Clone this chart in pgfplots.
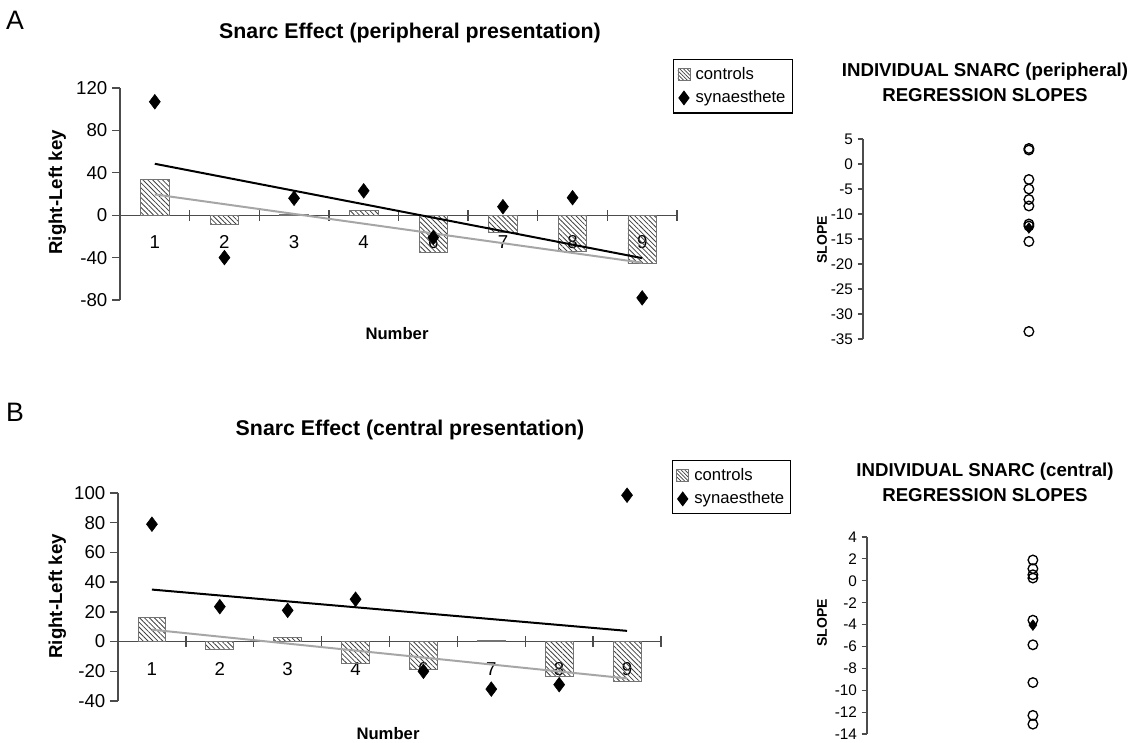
\documentclass[border=0pt]{standalone}
\usepackage{fontspec}
\setmainfont{Liberation Sans}
\usepackage{pgfplots}
\pgfplotsset{compat=1.18}
\usetikzlibrary{patterns.meta}
\newcommand\fs[1]{\fontsize{#1}{#1}\selectfont}
\pgfplotsset{
  snarc/.style={
    scale only axis,
    axis y line=left, axis x line=middle,
    x axis line style={-, draw=black!70, line width=1pt},
    y axis line style={-, draw=black!70, line width=1pt},
    hide obscured x ticks=false, hide obscured y ticks=false,
    xmin=0.5, xmax=8.5,
    xtick={1,...,8}, xticklabels={1,2,3,4,6,7,8,9},
    major x tick style={draw=none},
    minor xtick={1.5,2.5,...,8.5},
    minor x tick style={draw=black!70, line width=1pt},
    minor tick length=8pt,
    xtick align=center,
    ytick align=outside, major tick length=6pt,
    y tick style={draw=black!70, line width=1pt},
    tick label style={font=\fs{14}},
    xticklabel style={yshift=-9pt},
    /pgf/number format/assume math mode=true,
    legend style={draw=black, line width=0.8pt, font=\fs{12.5}, anchor=north west,
      row sep=3pt, inner xsep=3pt, inner ysep=4pt, cells={anchor=west}},
  },
  slope/.style={
    scale only axis,
    axis y line=left, axis x line=none,
    y axis line style={-, draw=black!70, line width=0.8pt},
    y tick style={draw=black!70, line width=0.8pt},
    ytick align=outside, major tick length=4pt,
    xmin=0, xmax=1, xtick=\empty,
    tick label style={font=\fs{11.5}},
    /pgf/number format/assume math mode=true,
  },
  barstyle/.style={ybar, bar width=0.41, draw=black!55, line width=0.6pt,
    pattern={Lines[angle=-45,distance=2.6pt,line width=0.6pt]}, pattern color=black!75,
    legend image code/.code={\draw[draw=black!55, line width=0.5pt, pattern={Lines[angle=-45,distance=2pt,line width=0.5pt]}, pattern color=black!75] (0pt,-4.5pt) rectangle (9pt,4.5pt);}},
  diam/.style={only marks, mark=diamond*, mark size=5.5pt, mark options={fill=black, draw=black},
    legend image code/.code={\draw[mark repeat=2, mark phase=2, only marks, mark size=5pt] plot coordinates {(0pt,0pt) (4.5pt,0pt) (9pt,0pt)};}},
}
\begin{document}
\begin{tikzpicture}
\useasboundingbox (0,0) rectangle (852pt,557.25pt);
% ---------- A ----------
\node[font=\fs{20}] at (11.25pt,542.25pt) {A};
\node[font=\bfseries\fs{16}] at (307.5pt,532.5pt) {Snarc Effect (peripheral presentation)};
\node[font=\bfseries\fs{14},rotate=90] at (43pt,413pt) {Right-Left key};
\node[font=\bfseries\fs{12.5}] at (297.75pt,306.75pt) {Number};
\begin{axis}[snarc, at={(90pt,332.25pt)}, anchor=south west,
  width=417.75pt, height=159pt,
  ymin=-80, ymax=120, ytick={-80,-40,...,120},
  legend style={at={(0.993,1.137)}}]
\addplot[barstyle]
  coordinates {(1,34) (2,-9) (3,0.8) (4,4.3) (5,-35) (6,-16) (7,-34.5) (8,-45.5)};
\addlegendentry{\hspace{2pt}controls}
\addplot[black!35, line width=1.5pt, forget plot] coordinates {(1,19.6) (8,-44.8)};
\addplot[black, line width=1.5pt, forget plot] coordinates {(1,48.5) (8,-40.5)};
\addplot[diam]
  coordinates {(1,107) (2,-40) (3,16) (4,23) (5,-21) (6,8) (7,16.5) (8,-78)};
\addlegendentry{\hspace{2pt}synaesthete}
\end{axis}
% ---------- A right ----------
\node[font=\bfseries\fs{14}, align=center] at (738.75pt,495.5pt) {INDIVIDUAL SNARC (peripheral)\\[5pt] REGRESSION SLOPES};
\node[font=\bfseries\fs{10.5},rotate=90] at (616.5pt,377.25pt) {SLOPE};
\begin{axis}[slope, at={(647.25pt,303pt)}, anchor=south west,
  width=177.75pt, height=150pt,
  ymin=-35, ymax=5, ytick={-35,-30,...,5}]
\addplot[only marks, mark=o, mark size=3.6pt, mark options={line width=1pt, black}]
  coordinates {(0.7,3.1) (0.7,2.8) (0.7,-3.1) (0.7,-5.0) (0.7,-7.1) (0.7,-8.4) (0.7,-12.0) (0.7,-12.4) (0.7,-15.5) (0.7,-33.5)};
\addplot[only marks, mark=diamond*, mark size=4pt, mark options={fill=black, draw=black}]
  coordinates {(0.7,-12.8)};
\end{axis}
% ---------- B ----------
\node[font=\fs{20}] at (11.25pt,248.25pt) {B};
\node[font=\bfseries\fs{16}] at (307.5pt,234.75pt) {Snarc Effect (central presentation)};
\node[font=\bfseries\fs{14},rotate=90] at (43pt,110pt) {Right-Left key};
\node[font=\bfseries\fs{12.5}] at (291pt,7pt) {Number};
\begin{axis}[snarc, at={(88.5pt,31.5pt)}, anchor=south west,
  width=407.25pt, height=156pt,
  ymin=-40, ymax=100, ytick={-40,-20,...,100},
  legend style={at={(1.02,1.159)}}]
\addplot[barstyle]
  coordinates {(1,16) (2,-5) (3,2.7) (4,-15) (5,-18.5) (6,0.6) (7,-23.5) (8,-26.7)};
\addlegendentry{\hspace{2pt}controls}
\addplot[black!35, line width=1.5pt, forget plot] coordinates {(1,8.0) (8,-24.8)};
\addplot[black, line width=1.5pt, forget plot] coordinates {(1,35) (8,7.2)};
\addplot[diam]
  coordinates {(1,79) (2,23.5) (3,21) (4,28.5) (5,-20) (6,-32) (7,-29) (8,98.5)};
\addlegendentry{\hspace{2pt}synaesthete}
\end{axis}
% ---------- B right ----------
\node[font=\bfseries\fs{14}, align=center] at (738.75pt,195.75pt) {INDIVIDUAL SNARC (central)\\[5pt] REGRESSION SLOPES};
\node[font=\bfseries\fs{10.5},rotate=90] at (616.5pt,90pt) {SLOPE};
\begin{axis}[slope, at={(650.25pt,6.75pt)}, anchor=south west,
  width=177.75pt, height=147.75pt,
  ymin=-14, ymax=4, ytick={-14,-12,...,4}]
\addplot[only marks, mark=o, mark size=3.6pt, mark options={line width=1pt, black}]
  coordinates {(0.7,1.9) (0.7,1.1) (0.7,0.55) (0.7,0.25) (0.7,-3.6) (0.7,-5.85) (0.7,-9.3) (0.7,-12.3) (0.7,-13.1)};
\addplot[only marks, mark=diamond*, mark size=4pt, mark options={fill=black, draw=black}]
  coordinates {(0.7,-4.05)};
\end{axis}
\end{tikzpicture}
\end{document}
